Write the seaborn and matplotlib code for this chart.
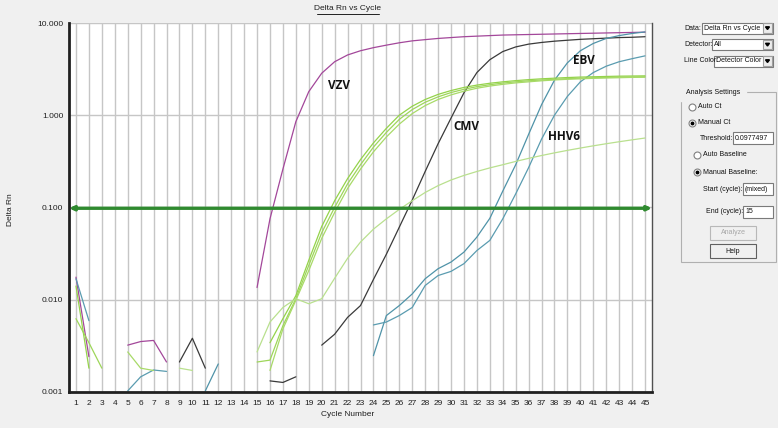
import numpy as np
import pandas as pd
import matplotlib
matplotlib.use("Agg")
import matplotlib.pyplot as plt
import seaborn as sns
from matplotlib.patches import Rectangle, Polygon
from matplotlib.lines import Line2D
from matplotlib.ticker import NullLocator

nan = np.nan
cycles = list(range(1, 46))

# Delta Rn per cycle (nan = no point drawn)
vzv = [0.0175, 0.0024, nan, nan, 0.0032, 0.0035, 0.0036, 0.0021, nan, nan,
       nan, nan, nan, nan, 0.0135, 0.075, 0.26, 0.85, 1.8, 2.85,
       3.8, 4.5, 5.0, 5.4, 5.75, 6.1, 6.4, 6.6, 6.8, 6.95,
       7.1, 7.2, 7.3, 7.4, 7.45, 7.5, 7.55, 7.6, 7.65, 7.7,
       7.75, 7.8, 7.85, 7.9, 7.95]
cmv = [nan, nan, nan, nan, nan, nan, nan, nan, 0.0021, 0.0038,
       0.0018, nan, nan, nan, nan, 0.00131, 0.00126, 0.00145, nan, 0.0032,
       0.0042, 0.0064, 0.0086, 0.0165, 0.031, 0.061, 0.12, 0.245, 0.49, 0.93,
       1.75, 2.9, 4.0, 4.9, 5.5, 5.9, 6.15, 6.35, 6.5, 6.65,
       6.75, 6.85, 6.95, 7.0, 7.1]
ebv = [nan, nan, nan, nan, nan, nan, nan, nan, nan, nan,
       0.00102, 0.002, nan, nan, nan, nan, nan, nan, nan, nan,
       nan, nan, nan, 0.00246, 0.0067, 0.0086, 0.0115, 0.0168, 0.0216, 0.0255,
       0.0327, 0.0476, 0.076, 0.15, 0.29, 0.62, 1.3, 2.4, 3.7, 5.0,
       6.0, 6.8, 7.3, 7.7, 8.0]
hhv6 = [0.0168, 0.0059, nan, nan, 0.00102, 0.00145, 0.00172, 0.00166, nan, nan,
        nan, nan, nan, nan, nan, nan, nan, nan, nan, nan,
        nan, nan, nan, 0.0053, 0.0057, 0.0067, 0.0082, 0.0142, 0.0182, 0.0202,
        0.0245, 0.034, 0.0438, 0.075, 0.14, 0.27, 0.55, 1.0, 1.6, 2.3,
        2.9, 3.4, 3.8, 4.1, 4.4]
green_a = [0.014, 0.0018, nan, nan, nan, nan, nan, nan, nan, nan,
           nan, nan, nan, nan, nan, 0.0034, 0.0062, 0.011, 0.0266, 0.062,
           0.118, 0.205, 0.33, 0.5, 0.72, 1.0, 1.25, 1.48, 1.68, 1.85,
           2.0, 2.12, 2.22, 2.3, 2.37, 2.43, 2.48, 2.52, 2.56, 2.59,
           2.61, 2.63, 2.65, 2.66, 2.67]
green_b = [0.0062, 0.0034, 0.0018, nan, nan, nan, nan, nan, nan, nan,
           nan, nan, nan, nan, 0.0021, 0.0022, 0.0052, 0.0102, 0.0235, 0.053,
           0.1, 0.18, 0.29, 0.45, 0.65, 0.9, 1.15, 1.38, 1.58, 1.76,
           1.91, 2.04, 2.14, 2.23, 2.3, 2.36, 2.41, 2.45, 2.49, 2.52,
           2.55, 2.57, 2.59, 2.6, 2.61]
green_c = [nan, nan, nan, nan, 0.0027, 0.0018, 0.0017, nan, nan, nan,
           nan, nan, nan, nan, nan, 0.0017, 0.0048, 0.0098, 0.0206, 0.046,
           0.088, 0.16, 0.26, 0.4, 0.58, 0.8, 1.04, 1.27, 1.48, 1.66,
           1.82, 1.96, 2.07, 2.16, 2.24, 2.3, 2.36, 2.41, 2.45, 2.48,
           2.51, 2.53, 2.55, 2.57, 2.58]
green_slow = [nan, nan, nan, nan, nan, nan, nan, nan, 0.0018, 0.0017,
              nan, nan, nan, nan, 0.0027, 0.0057, 0.0082, 0.0102, 0.009, 0.0102,
              0.017, 0.028, 0.042, 0.058, 0.075, 0.095, 0.118, 0.145, 0.172, 0.198,
              0.222, 0.245, 0.268, 0.29, 0.315, 0.34, 0.365, 0.39, 0.415, 0.44,
              0.465, 0.49, 0.515, 0.54, 0.565]

threshold = 0.0977497

series = {"VZV": vzv, "CMV": cmv, "EBV": ebv, "HHV6": hhv6,
          "green_a": green_a, "green_b": green_b, "green_c": green_c,
          "green_slow": green_slow}
palette = {"VZV": "#A3479A", "CMV": "#3A3A3A", "EBV": "#4F93A8", "HHV6": "#5A9CB0",
           "green_a": "#94D34A", "green_b": "#9ED65A", "green_c": "#A8DA68",
           "green_slow": "#B9E08E"}

# long table, split every curve into runs without gaps
rows = []
for name, vals in series.items():
    seg = 0
    gap = True
    for c, v in zip(cycles, vals):
        if np.isnan(v):
            gap = True
            continue
        if gap:
            seg += 1
            gap = False
        rows.append((name, f"{name}_{seg}", c, v))
df = pd.DataFrame(rows, columns=["curve", "seg", "cycle", "delta_rn"])

sns.set_style("white")
plt.rcParams["font.family"] = ["Liberation Sans", "DejaVu Sans"]

W, H = 778, 428
fig = plt.figure(figsize=(W / 100, H / 100), dpi=100, facecolor="#F0F0F0")
ax = fig.add_axes([69 / W, 1 - 391.7 / H, (652 - 69) / W, (391.7 - 23) / H])
ax.set_facecolor("white")

sns.lineplot(data=df, x="cycle", y="delta_rn", hue="curve", units="seg",
             estimator=None, palette=palette, linewidth=0.9, legend=False, ax=ax)

ax.set_yscale("log")
ax.set_ylim(0.001, 10)
ax.set_xlim(0.46, 45.54)
ax.set_yticks([0.001, 0.01, 0.1, 1, 10])
ax.set_yticklabels(["0.001", "0.010", "0.100", "1.000", "10.000"])
ax.yaxis.set_minor_locator(NullLocator())
ax.set_xticks(cycles)
ax.set_xticklabels([str(c) for c in cycles])
ax.tick_params(axis="both", length=0, labelsize=6, colors="#202020")
ax.tick_params(axis="y", pad=4)
ax.tick_params(axis="x", pad=6)
ax.grid(True, color="#C6C6C6", linewidth=1.0)
ax.set_axisbelow(True)
ax.set_xlabel("")
ax.set_ylabel("")
for s in ["left", "bottom"]:
    ax.spines[s].set_linewidth(2)
    ax.spines[s].set_color("#202020")
ax.spines["right"].set_linewidth(1)
ax.spines["right"].set_color("#505050")
ax.spines["top"].set_visible(False)

# threshold line with arrow heads
ax.annotate("", xy=(45.54, threshold), xytext=(0.46, threshold),
            arrowprops=dict(arrowstyle="<|-|>,head_length=0.25,head_width=0.12",
                            color="#2F8A2F", lw=2.4, shrinkA=0, shrinkB=0),
            annotation_clip=False)

# curve labels
for txt, cx, cy in [("VZV", 21.3, 2.1), ("CMV", 31.2, 0.76),
                    ("EBV", 40.3, 3.9), ("HHV6", 38.7, 0.59)]:
    ax.text(cx, cy, txt, fontsize=8.5, fontweight="bold", family=["Open Sans", "DejaVu Sans"],
            ha="center", va="center", color="#111111")


def fx(x):
    return x / W


def fy(y):
    return 1 - y / H


# title, axis labels
fig.text(fx(348), fy(9), "Delta Rn vs Cycle", fontsize=6, ha="center", va="center", color="#202020")
fig.add_artist(Line2D([fx(317), fx(379)], [fy(13.5), fy(13.5)], color="#202020", lw=0.7,
                      transform=fig.transFigure))
fig.text(fx(11), fy(210), "Delta Rn", fontsize=6, rotation=90, ha="center", va="center", color="#202020")
fig.text(fx(348), fy(415), "Cycle Number", fontsize=6, ha="center", va="center", color="#202020")

UI = 5


# right hand settings panel
def box(x0, y0, x1, y1, text="", fc="white", ec="#7A7A7A", tcolor="#111111", center=False):
    fig.add_artist(Rectangle((fx(x0), fy(y1)), fx(x1 - x0), (y1 - y0) / H, facecolor=fc,
                             edgecolor=ec, lw=0.8, transform=fig.transFigure))
    if text:
        if center:
            fig.text(fx((x0 + x1) / 2), fy((y0 + y1) / 2), text, fontsize=UI, ha="center",
                     va="center", color=tcolor)
        else:
            fig.text(fx(x0 + 2), fy((y0 + y1) / 2), text, fontsize=UI, ha="left",
                     va="center", color=tcolor)


def combo(y, label, lx, bx, value):
    fig.text(fx(lx), fy(y), label, fontsize=UI, ha="left", va="center", color="#111111")
    box(bx, y - 5.5, 773, y + 5.5, value)
    box(763, y - 4.5, 772, y + 4.5, fc="#ECECEC", ec="#A0A0A0")
    fig.add_artist(Polygon([[fx(765.5), fy(y - 1.2)], [fx(769.5), fy(y - 1.2)], [fx(767.5), fy(y + 1.5)]],
                           closed=True, color="black", transform=fig.transFigure))


def radio(x, y, label, on):
    fig.add_artist(Line2D([fx(x)], [fy(y)], marker="o", markersize=5, mfc="white",
                          mec="#808080", mew=0.8, transform=fig.transFigure))
    if on:
        fig.add_artist(Line2D([fx(x)], [fy(y)], marker="o", markersize=1.8, mfc="black",
                              mec="black", transform=fig.transFigure))
    fig.text(fx(x + 6), fy(y), label, fontsize=UI, ha="left", va="center", color="#111111")


combo(28, "Data:", 684, 702, "Delta Rn vs Cycle")
combo(44.5, "Detector:", 684, 712, "All")
combo(61, "Line Color:", 684, 714, "Detector Color")

# group box
fig.add_artist(Rectangle((fx(681), fy(262)), fx(776 - 681), (262 - 92) / H, facecolor="none",
                         edgecolor="#B0B0B0", lw=0.8, transform=fig.transFigure))
fig.text(fx(686), fy(92), "Analysis Settings", fontsize=UI, ha="left", va="center",
         color="#111111", backgroundcolor="#F0F0F0")

radio(692, 107, "Auto Ct", False)
radio(692, 123, "Manual Ct", True)
fig.text(fx(700), fy(138), "Threshold:", fontsize=UI, ha="left", va="center", color="#111111")
box(733, 132, 773, 144, "0.0977497")
radio(697, 155, "Auto Baseline", False)
radio(697, 172, "Manual Baseline:", True)
fig.text(fx(703), fy(189), "Start (cycle):", fontsize=UI, ha="left", va="center", color="#111111")
box(743, 183, 773, 195, "(mixed)")
fig.text(fx(706), fy(212), "End (cycle):", fontsize=UI, ha="left", va="center", color="#111111")
box(743, 206, 773, 218, "15")
box(710, 226, 756, 240, "Analyze", fc="#F0F0F0", ec="#B8B8B8", tcolor="#A8A8A8", center=True)
box(710, 244, 756, 258, "Help", fc="#F0F0F0", ec="#606060", center=True)

fig.savefig("out.png", dpi=100, facecolor=fig.get_facecolor())
